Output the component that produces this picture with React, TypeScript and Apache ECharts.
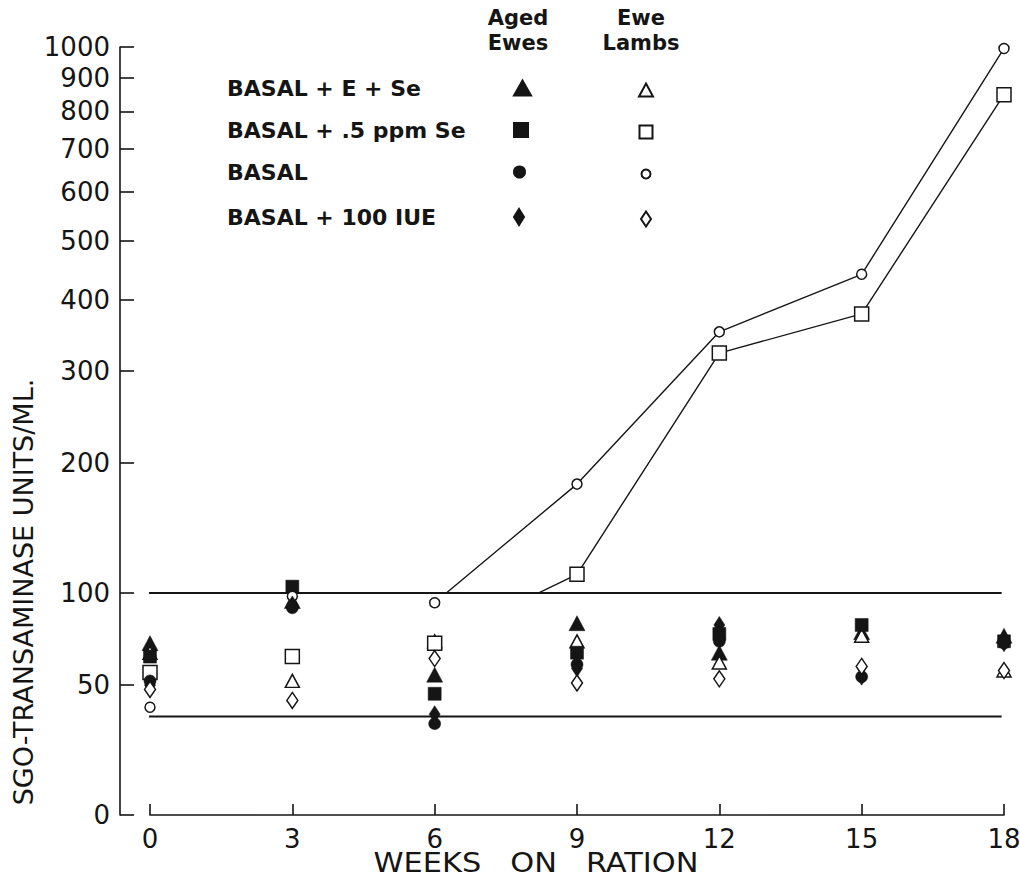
import React, { useEffect, useRef } from "react";
import * as echarts from "echarts";

const WEEKS = [0, 3, 6, 9, 12, 15, 18];
const AGED_E_SE = [71, 95, 55, 82, 66, 77, 75];
const LAMB_E_SE = [66, 52, 72, 72, 61, 75, 57];
const AGED_SE = [64, 104, 46, 66, 76, 81, 72];
const LAMB_SE = [56, 64, 71, 112, 323, 378, 848];
const AGED_BASAL = [52, 91, 33, 60, 72, 54, 71];
const LAMB_BASAL = [40, 98, 94, 181, 352, 441, 995];
const AGED_IUE = [50, 93, 37, 58, 81, 54, 71];
const LAMB_IUE = [48, 43, 63, 51, 53, 59, 57];
const Y_TICKS = [0, 50, 100, 200, 300, 400, 500, 600, 700, 800, 900, 1000];
const X_TICKS = [0, 3, 6, 9, 12, 15, 18];
const REF_LINES = [100, 36];
const REF_FROM_WEEK = [-0.2, -0.5];
const REF_TO_WEEK = [17.95, 17.95];
const TREATMENTS = ["BASAL + E + Se", "BASAL + .5 ppm Se", "BASAL", "BASAL + 100 IUE"];
const GROUPS = ["Aged\nEwes", "Ewe\nLambs"];
const X_TITLE = "WEEKS   ON   RATION";
const Y_TITLE = "SGO-TRANSAMINASE UNITS/ML.";

const INK = "#151515";
const FONT = "DejaVu Sans";
const tf = (v: number) => Math.log10(v + 100);
const inv = (t: number) => Math.round(Math.pow(10, t) - 100);

export default function App() {
  const ref = useRef<HTMLDivElement>(null);
  useEffect(() => {
    if (!ref.current) return;
    const chart = echarts.init(ref.current, undefined, { renderer: "svg" });
    const pts = (vals: number[]) => WEEKS.map((w, i) => [w, tf(vals[i])]);

    // row: legend row index; size: plot symbol size; lsize: legend icon size
    const spec = [
      { name: TREATMENTS[0] + " (Aged Ewes)", row: 0, data: AGED_E_SE, symbol: "triangle", size: [16, 15], lsize: [17, 15], filled: true },
      { name: TREATMENTS[0] + " (Ewe Lambs)", row: 0, data: LAMB_E_SE, symbol: "triangle", size: [14, 13], lsize: [14, 13], filled: false },
      { name: TREATMENTS[1] + " (Aged Ewes)", row: 1, data: AGED_SE, symbol: "rect", size: [13, 13], lsize: [14, 14], filled: true },
      { name: TREATMENTS[1] + " (Ewe Lambs)", row: 1, data: LAMB_SE, symbol: "rect", size: [14, 14], lsize: [13, 13], filled: false },
      { name: TREATMENTS[2] + " (Aged Ewes)", row: 2, data: AGED_BASAL, symbol: "circle", size: [12, 12], lsize: [11, 11], filled: true },
      { name: TREATMENTS[2] + " (Ewe Lambs)", row: 2, data: LAMB_BASAL, symbol: "circle", size: [10, 10], lsize: [9, 9], filled: false },
      { name: TREATMENTS[3] + " (Aged Ewes)", row: 3, data: AGED_IUE, symbol: "diamond", size: [11, 17], lsize: [10, 16], filled: true },
      { name: TREATMENTS[3] + " (Ewe Lambs)", row: 3, data: LAMB_IUE, symbol: "diamond", size: [11, 16], lsize: [10, 15], filled: false },
    ];
    const ROW_Y = [89, 131, 173, 218];

    const scatterSeries = spec.map((s) => ({
      type: "scatter",
      name: s.name,
      data: pts(s.data),
      symbol: s.symbol,
      symbolSize: s.size,
      itemStyle: s.filled
        ? { color: INK, borderColor: INK, borderWidth: 0.5, opacity: 1 }
        : { color: "#ffffff", borderColor: INK, borderWidth: 1.5, opacity: 1 },
      z: 4,
    }));

    const lineSeries = [LAMB_BASAL, LAMB_SE].map((vals, i) => ({
      type: "line",
      name: "trend" + i,
      data: pts(vals),
      symbol: "none",
      lineStyle: { width: 1.4 },
      z: 2,
    }));

    const refSeries = REF_LINES.map((v, i) => ({
      type: "line",
      name: "normal" + i,
      data: [
        [REF_FROM_WEEK[i], tf(v)],
        [REF_TO_WEEK[i], tf(v)],
      ],
      clip: false,
      symbol: "none",
      silent: true,
      lineStyle: { color: INK, width: 1.8 },
      z: 1,
    }));

    const legends = spec.map((s) => {
      const base: any = {
        data: [s.name],
        orient: "vertical",
        padding: 0,
        itemWidth: s.lsize[0],
        itemHeight: s.lsize[1],
        symbolKeepAspect: false,
        selectedMode: false,
      };
      if (s.filled) {
        return {
          ...base,
          left: 227,
          top: ROW_Y[s.row] - 12,
          align: "right",
          formatter: (n: string) => "{t|" + n.replace(" (Aged Ewes)", "") + "}",
          textStyle: {
            rich: {
              t: { width: 282, fontSize: 22, fontWeight: "bold", fontFamily: FONT, color: INK, lineHeight: 24, align: "left" },
            },
          },
        };
      }
      return {
        ...base,
        left: 645 - s.lsize[0] / 2,
        top: ROW_Y[s.row] - s.lsize[1] / 2,
        formatter: () => "",
        textStyle: { fontSize: 1, lineHeight: 1 },
      };
    });

    chart.setOption({
      animation: false,
      backgroundColor: "#ffffff",
      textStyle: { fontFamily: FONT, color: INK },
      grid: { left: 150, right: 16, top: 47, bottom: 63, containLabel: false, outerBoundsMode: "none" },
      xAxis: {
        type: "value",
        min: 0,
        max: 18,
        interval: 3,
        axisLine: { onZero: false, lineStyle: { color: INK, width: 1.6 } },
        axisTick: { inside: true, length: 11, lineStyle: { color: INK, width: 1.6 }, customValues: X_TICKS },
        axisLabel: { fontSize: 26, color: INK, margin: 11, fontFamily: FONT, customValues: X_TICKS },
        splitLine: { show: false },
      },
      yAxis: {
        type: "value",
        min: tf(0),
        max: tf(1000),
        offset: 30,
        axisLine: { show: true, onZero: false, lineStyle: { color: INK, width: 1.6 } },
        axisTick: { show: true, inside: true, length: 14, lineStyle: { color: INK, width: 1.6 }, customValues: Y_TICKS.map(tf) },
        axisLabel: {
          fontSize: 26,
          color: INK,
          margin: 10,
          fontFamily: FONT,
          customValues: Y_TICKS.map(tf),
          formatter: (v: number) => String(inv(v)),
        },
        splitLine: { show: false },
      },
      visualMap: {
        show: false,
        type: "piecewise",
        dimension: 1,
        seriesIndex: [8, 9],
        pieces: [
          { gte: 1, lt: tf(100), color: "rgba(255,255,255,0)" },
          { gte: tf(100), lte: 4, color: INK },
        ],
      },
      legend: legends,
      graphic: [
        {
          type: "text",
          x: 518,
          y: 5,
          style: { text: GROUPS[0], font: `bold 21px '${FONT}'`, fill: INK, lineHeight: 25, align: "center", verticalAlign: "top" },
        },
        {
          type: "text",
          x: 641,
          y: 5,
          style: { text: GROUPS[1], font: `bold 21px '${FONT}'`, fill: INK, lineHeight: 25, align: "center", verticalAlign: "top" },
        },
        {
          type: "text",
          x: 536,
          y: 863,
          scaleX: 1.17,
          style: { text: X_TITLE, font: `26px '${FONT}'`, fill: INK, align: "center", verticalAlign: "middle" },
        },
        {
          type: "text",
          x: 23,
          y: 592,
          rotation: Math.PI / 2,
          style: { text: Y_TITLE, font: `27px '${FONT}'`, fill: INK, align: "center", verticalAlign: "middle" },
        },
      ],
      series: [...scatterSeries, ...lineSeries, ...refSeries],
    });
    return () => chart.dispose();
  }, []);
  return <div ref={ref} style={{ position: "fixed", left: 0, top: 0, width: 1020, height: 878 }} />;
}
